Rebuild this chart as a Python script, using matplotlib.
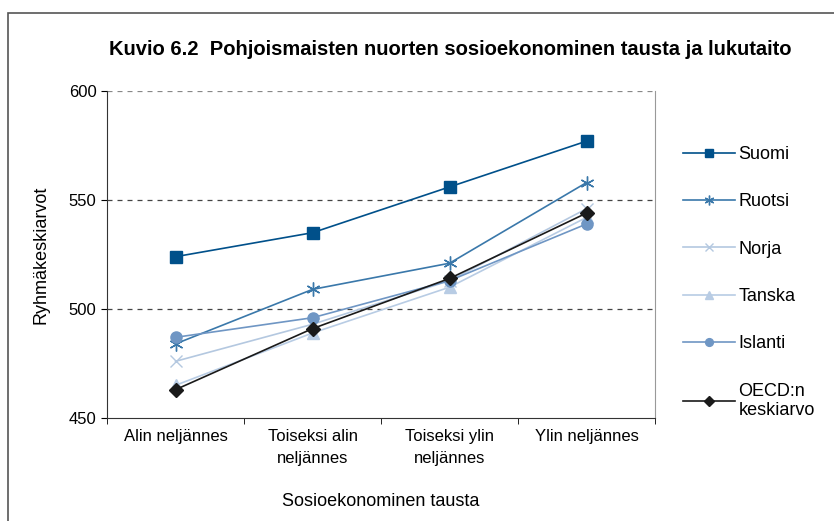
import matplotlib.pyplot as plt
from matplotlib.patches import Rectangle

# -----------------------------
# Data
# -----------------------------
categories = ["Alin neljännes", "Toiseksi alin\nneljännes",
              "Toiseksi ylin\nneljännes", "Ylin neljännes"]

suomi = [524, 535, 556, 577]
ruotsi = [484, 509, 521, 558]
norja = [476, 493, 513, 546]
tanska = [465, 489, 510, 542]
islanti = [487, 496, 513, 539]
oecd = [463, 491, 514, 544]

series = [
    ("Suomi", suomi, "#00508A", "s", 8),
    ("Ruotsi", ruotsi, "#3A78AA", (6, 2, 0), 10),
    ("Norja", norja, "#B4C8E0", "x", 9),
    ("Tanska", tanska, "#B8CCE4", "^", 8),
    ("Islanti", islanti, "#6F96C4", "o", 8),
    ("OECD:n\nkeskiarvo", oecd, "#1A1A1A", "D", 7),
]

# -----------------------------
# Plot
# -----------------------------
plt.rcParams['font.family'] = ['Liberation Sans', 'DejaVu Sans']

fig = plt.figure(figsize=(8.34, 5.21), dpi=100)
fig.patches.append(Rectangle((8 / 834, -0.01), 1.0, 1 - 13 / 521 + 0.01,
                             transform=fig.transFigure, fill=False,
                             edgecolor="#555555", linewidth=1.2))

ax = fig.add_axes([0.1283, 0.1977, 0.6571, 0.6276])

xs = [0.5, 1.5, 2.5, 3.5]
for name, vals, color, marker, ms in series:
    ax.plot(xs, vals, color=color, marker=marker, markersize=ms, linewidth=1.2,
            markeredgewidth=1.0, label=name)

ax.set_xlim(0, 4)
ax.set_ylim(450, 600)
ax.set_yticks([450, 500, 550, 600])
ax.set_xticks([0.5, 1.5, 2.5, 3.5])
ax.set_xticklabels(categories, fontsize=12, linespacing=1.55)
ax.set_xticks([0, 1, 2, 3, 4], minor=True)
ax.tick_params(axis="x", which="major", length=0, pad=8)
ax.tick_params(axis="x", which="minor", length=4, direction="out")
ax.tick_params(axis="y", labelsize=12, length=4, direction="out")

for y in [500, 550]:
    ax.axhline(y, color="#444444", linestyle=(0, (4, 4)), linewidth=0.9, zorder=0)
ax.axhline(600, color="#888888", linestyle=(0, (4, 4)), linewidth=0.9, zorder=0)

ax.spines["top"].set_visible(False)
ax.spines["right"].set_color("#999999")
ax.spines["left"].set_color("#333333")
ax.spines["bottom"].set_color("#333333")

ax.set_ylabel("Ryhmäkeskiarvot", fontsize=13, labelpad=14)
ax.set_xlabel("Sosioekonominen tausta", fontsize=13, labelpad=20)

fig.text(0.5395, 0.905, "Kuvio 6.2  Pohjoismaisten nuorten sosioekonominen tausta ja lukutaito",
         ha="center", va="center", fontsize=14.5, fontweight="bold")

handles, labels = ax.get_legend_handles_labels()
fig.legend(handles, labels, loc="upper left", bbox_to_anchor=(0.799, 0.751),
           frameon=False, fontsize=13, labelspacing=1.68, handlelength=2.9,
           handletextpad=0.2, markerscale=0.7)

plt.savefig("out.png", dpi=100)
